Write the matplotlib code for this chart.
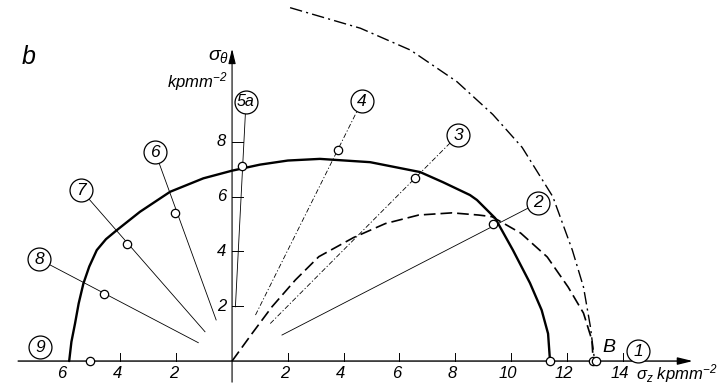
"""Stress-state diagram: sigma_theta over sigma_z with loading paths 1..9."""

import matplotlib

matplotlib.use("Agg")
import matplotlib.pyplot as plt  # noqa: E402

plt.rcParams["font.family"] = ["Liberation Sans", "DejaVu Sans"]
plt.rcParams["font.style"] = "italic"
plt.rcParams["mathtext.fontset"] = "custom"
plt.rcParams["mathtext.it"] = "Liberation Sans:italic"
plt.rcParams["mathtext.rm"] = "Liberation Sans:italic"

# limit curve (solid, thick)
solid_x = [-5.84, -5.76, -5.63, -5.5, -5.33, -5.12, -4.85, -4.52, -4.13, -3.3, -2.22, -1.03, 0.0,
           1.0, 2.0, 3.15, 4.95, 6.74, 7.56, 8.53, 8.78, 9.43, 10.07, 10.68, 11.1, 11.33, 11.4]
solid_y = [0.0, 0.7, 1.37, 2.1, 2.83, 3.45, 4.05, 4.45, 4.78, 5.45, 6.18, 6.67, 6.95,
           7.17, 7.32, 7.38, 7.26, 6.9, 6.53, 6.06, 5.88, 5.22, 4.05, 2.85, 1.86, 1.0, 0.0]

# second curve (dashed)
dash_x = [0.0, 0.72, 1.43, 2.27, 3.11, 4.36, 5.5, 6.69, 7.89, 8.84, 9.32, 10.35, 11.3, 12.05, 12.6, 12.9, 12.95]
dash_y = [0.0, 1.01, 1.98, 2.96, 3.81, 4.51, 5.02, 5.33, 5.41, 5.33, 5.27, 4.67, 3.8, 2.7, 1.75, 0.77, 0.0]

# outer curve (dash-dot)
dd_x = [2.08, 4.6, 6.4, 8.06, 9.35, 10.4, 11.5, 12.2, 12.6, 12.85, 13.0]
dd_y = [12.9, 12.15, 11.35, 10.2, 9.0, 7.8, 6.0, 4.05, 2.7, 1.24, 0.0]

# loading paths: name, start, measured point, label position
path_names = ["2", "3", "4", "5a", "6", "7", "8"]
path_start = [(1.79, 0.95), (1.37, 1.37), (0.84, 1.68), (0.12, 1.98), (-0.57, 1.5), (-0.97, 1.07), (-1.21, 0.67)]
path_point = [(9.35, 5.0), (6.56, 6.68), (3.8, 7.7), (0.36, 7.12), (-2.04, 5.39), (-3.77, 4.26), (-4.59, 2.45)]
path_label = [(10.97, 5.77), (8.1, 8.25), (4.66, 9.49), (0.5, 9.47), (-2.76, 7.63), (-5.41, 6.24), (-6.92, 3.72)]

# points on the sigma_z axis
axis_pts = [-5.09, 11.4, 12.95, 13.05]
axis_names = ["9", "1"]
axis_label = [(-6.88, 0.51), (14.55, 0.36)]

xticks = [-4, -2, 2, 4, 6, 8, 10, 12, 14]
xlabels = [-6, -4, -2, 2, 4, 6, 8, 10, 12, 14]
yticks = [2, 4, 6, 8]

fig = plt.figure(figsize=(7.21, 3.89), dpi=100)
ax = fig.add_axes([0, 0, 1, 1])
ax.set_xlim(-8.32, 17.53)
ax.set_ylim(-1.02, 13.18)
ax.axis("off")

# axes with arrows
ax.annotate("", xy=(16.52, 0), xytext=(-7.67, 0),
            arrowprops=dict(arrowstyle="-|>,head_length=0.9,head_width=0.22",
                            lw=1.0, color="k", shrinkA=0, shrinkB=0))
ax.annotate("", xy=(0, 11.4), xytext=(0, -0.77),
            arrowprops=dict(arrowstyle="-|>,head_length=0.9,head_width=0.22",
                            lw=0.8, color="k", shrinkA=0, shrinkB=0))
for t in xticks:
    ax.plot([t, t], [0, 0.3], color="k", lw=0.7)
for t in xlabels:
    ax.text(t - 0.1, -0.47, f"{abs(t)}", ha="center", va="center", fontsize=12)
for t in yticks:
    ax.plot([0, 0.38], [t, t], color="k", lw=0.7)
    ax.text(-0.22, t, f"{t}", ha="right", va="center", fontsize=12)

# curves
ax.plot(solid_x, solid_y, color="k", lw=1.7, solid_capstyle="round", solid_joinstyle="round")
ax.plot(dash_x, dash_y, color="k", lw=1.2, ls=(0, (7, 3)))
ax.plot(dd_x, dd_y, color="k", lw=1.0, ls=(0, (9, 3, 1.5, 3)))

# loading paths
for name, s, p, lab in zip(path_names, path_start, path_point, path_label):
    ls = (0, (6, 2.5, 1.5, 2.5)) if name in ("3", "4") else "-"
    ax.plot([s[0], lab[0]], [s[1], lab[1]], color="k", lw=0.6, ls=ls, zorder=2)
    ax.plot(*p, "o", ms=6, mfc="white", mec="k", mew=0.9, zorder=4)
    ax.plot(*lab, "o", ms=16.5, mfc="white", mec="k", mew=0.9, zorder=5)
    ax.text(*lab, name, ha="center", va="center", fontsize=12.5 if len(name) == 1 else 11.5, zorder=6)

for x in axis_pts:
    ax.plot(x, 0, "o", ms=6, mfc="white", mec="k", mew=0.9, zorder=4)
for name, lab in zip(axis_names, axis_label):
    ax.plot(*lab, "o", ms=16.5, mfc="white", mec="k", mew=0.9, zorder=5)
    ax.text(*lab, name, ha="center", va="center", fontsize=12.5, zorder=6)

# annotations
ax.text(-7.3, 11.1, "b", fontsize=18, ha="center", va="center")
ax.text(13.5, 0.5, "B", fontsize=14, ha="center", va="center")
ax.text(-0.1, 11.1, r"$\sigma_\theta$", fontsize=14, ha="right", va="center")
ax.text(-0.15, 10.2, "kpmm$^{-2}$", fontsize=12, ha="right", va="center")
ax.text(14.5, -0.45, r"$\sigma_z$ kpmm$^{-2}$", fontsize=12, ha="left", va="center")

fig.savefig("out.png", dpi=100)
